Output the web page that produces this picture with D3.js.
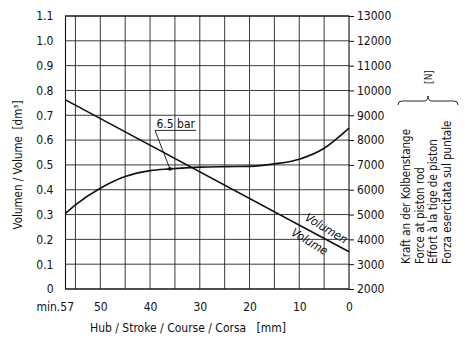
<!DOCTYPE html>
<html><head><meta charset="utf-8">
<script src="https://cdn.jsdelivr.net/npm/d3@7/dist/d3.min.js"></script>
<style>
html,body{margin:0;padding:0;background:#fff;}
svg text{font-family:"Liberation Sans Narrow","DejaVu Sans Condensed","DejaVu Sans",sans-serif;fill:#111;}
</style></head>
<body><svg id="c" width="465" height="352"></svg>
<script>
// ---- data ----
const xTicks = [57, 50, 40, 30, 20, 10, 0];
const xGrid = [55, 50, 45, 40, 35, 30, 25, 20, 15, 10, 5];
const volTicks = [0, 0.1, 0.2, 0.3, 0.4, 0.5, 0.6, 0.7, 0.8, 0.9, 1.0, 1.1];
const forceTicks = [2000, 3000, 4000, 5000, 6000, 7000, 8000, 9000, 10000, 11000, 12000, 13000];
const strokeForce = [57, 55, 50, 45, 40, 36, 30, 25, 20, 15, 10, 5, 0];
const forceN = [5050, 5390, 6060, 6530, 6770, 6840, 6910, 6930, 6940, 7040, 7230, 7670, 8480];
const strokeVol = [57, 0];
const volume = [0.762, 0.150];
const markStroke = 36;
const rightLabels = ["Kraft an der Kolbenstange", "Force at piston rod", "Effort à la tige de piston", "Forza esercitata sul puntale"];

// ---- layout ----
const L = 65.5, R = 349, T = 16, B = 289;
const svg = d3.select("#c");
svg.append("rect").attr("width",465).attr("height",352).attr("fill","#fff");
const x = d3.scaleLinear().domain([57, 0]).range([L, R]);
const yV = d3.scaleLinear().domain([0, 1.1]).range([B, T]);
const yF = d3.scaleLinear().domain([2000, 13000]).range([B, T]);

const g = svg.append("g");
// grid
g.selectAll("line.h").data(volTicks).join("line")
  .attr("x1", L).attr("x2", R).attr("y1", d=>yV(d)).attr("y2", d=>yV(d))
  .attr("stroke","#222").attr("stroke-width",0.9);
g.selectAll("line.v").data(xGrid).join("line")
  .attr("y1", T).attr("y2", B).attr("x1", d=>x(d)).attr("x2", d=>x(d))
  .attr("stroke","#222").attr("stroke-width",0.9);
g.append("rect").attr("x",L).attr("y",T).attr("width",R-L).attr("height",B-T)
  .attr("fill","none").attr("stroke","#111").attr("stroke-width",1.1);

// axes
const fs = "12px";
const axL = svg.append("g").attr("transform",`translate(${L},0)`)
  .call(d3.axisLeft(yV).tickValues(volTicks).tickSize(0).tickPadding(12)
    .tickFormat(d => d===0 ? "0" : d3.format(".1f")(d)));
axL.select(".domain").remove();
axL.selectAll("text").style("font-size",fs);

const axR = svg.append("g").attr("transform",`translate(${R},0)`)
  .call(d3.axisRight(yF).tickValues(forceTicks).tickSize(5).tickPadding(3).tickFormat(d3.format("d")));
axR.select(".domain").remove();
axR.selectAll("line").attr("stroke","#111");
axR.selectAll("text").style("font-size",fs);

const axB = svg.append("g").attr("transform",`translate(0,${B})`)
  .call(d3.axisBottom(x).tickValues(xTicks).tickSize(0).tickPadding(13)
    .tickFormat(d => d===57 ? "min.57" : String(d)));
axB.select(".domain").remove();
axB.selectAll("text").style("font-size",fs)
  .filter(d => d===57).attr("text-anchor","end").attr("dx","8");

// curves
const forceData = strokeForce.map((s,i)=>({s, f: forceN[i]}));
svg.append("path").datum(forceData)
  .attr("d", d3.line().x(d=>x(d.s)).y(d=>yF(d.f)).curve(d3.curveMonotoneX))
  .attr("fill","none").attr("stroke","#111").attr("stroke-width",1.6);
const volData = strokeVol.map((s,i)=>({s, v: volume[i]}));
svg.append("path").datum(volData)
  .attr("d", d3.line().x(d=>x(d.s)).y(d=>yV(d.v)))
  .attr("fill","none").attr("stroke","#111").attr("stroke-width",1.6);

// 6.5 bar annotation
const mf = forceN[strokeForce.indexOf(markStroke)];
const mx = x(markStroke), my = yF(mf);
svg.append("circle").attr("cx",mx).attr("cy",my).attr("r",1.8).attr("fill","#111");
const ax0 = mx - 15, ay0 = my - 38.5;
svg.append("line").attr("x1",ax0).attr("y1",ay0).attr("x2",mx).attr("y2",my).attr("stroke","#111").attr("stroke-width",0.9);
svg.append("line").attr("x1",ax0).attr("y1",ay0).attr("x2",ax0+41).attr("y2",ay0).attr("stroke","#111").attr("stroke-width",0.9);
svg.append("text").attr("x",ax0+1.5).attr("y",ay0-2.5).style("font-size","12px").text("6.5 bar");

// volume line labels
const ang = Math.atan2(yV(volume[1])-yV(volume[0]), x(strokeVol[1])-x(strokeVol[0]))*180/Math.PI;
function along(sv, off, txt){
  const px = x(sv), py = yV(volume[0] + (volume[1]-volume[0])*(strokeVol[0]-sv)/(strokeVol[0]-strokeVol[1]));
  const rad = ang*Math.PI/180;
  const nx = -Math.sin(rad)*off, ny = Math.cos(rad)*off;
  svg.append("text").attr("transform",`translate(${px+nx},${py+ny}) rotate(${ang+3})`)
    .attr("text-anchor","middle").attr("dy","0.35em")
    .style("font-size","12px").style("font-style","italic").text(txt);
}
along(5.5, -10, "Volumen");
along(7, 9.5, "Volume");

// axis titles
svg.append("text").attr("transform","translate(22,165) rotate(-90)").attr("text-anchor","middle")
  .style("font-size","11.5px").style("white-space","pre").text("Volumen / Volume  [dm³]");
svg.append("text").attr("x",188).attr("y",332).attr("text-anchor","middle")
  .style("font-size","12px").style("white-space","pre").text("Hub / Stroke / Course / Corsa   [mm]");
const bx = [410, 423.5, 437, 450.5];
rightLabels.forEach((t,i)=>{
  svg.append("text").attr("transform",`translate(${bx[i]},264) rotate(-90)`)
    .style("font-size","11.5px").text(t);
});
svg.append("path").attr("d","M398,105 Q398,101 402,101 L424,101 Q428,101 428,96 Q428,101 432,101 L454,101 Q458,101 458,105")
  .attr("fill","none").attr("stroke","#111").attr("stroke-width",0.9);
svg.append("text").attr("transform","translate(432,77) rotate(-90)").attr("text-anchor","middle")
  .style("font-size","10px").text("[N]");
</script></body></html>
